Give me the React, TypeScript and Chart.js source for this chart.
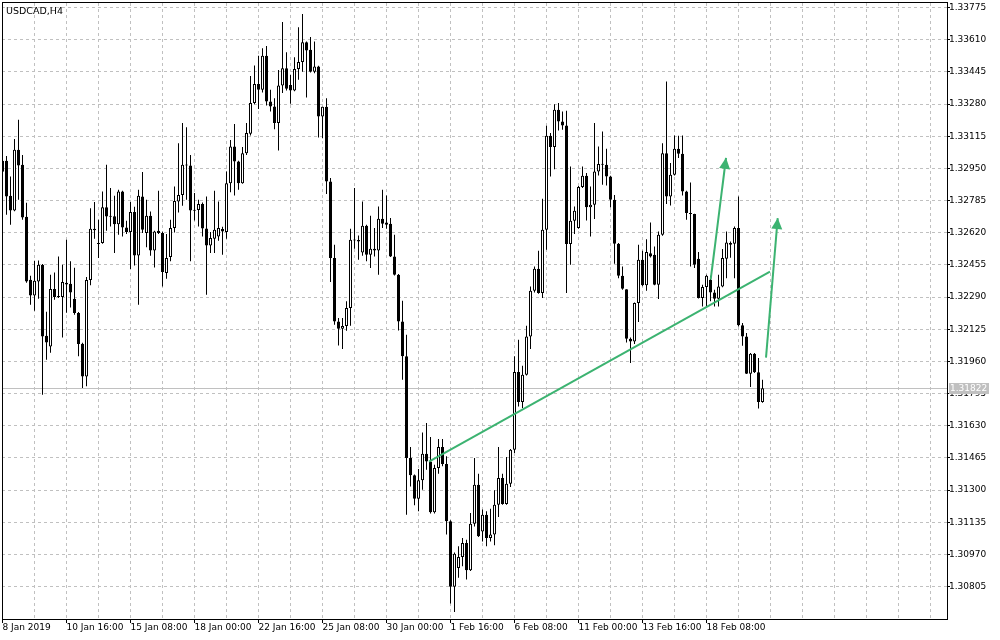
import React, { useEffect, useRef } from 'react';
import { Chart, registerables } from 'chart.js';

Chart.register(...registerables);

const symbolTitle = 'USDCAD,H4';

const opens = [
  1.32932,1.32989,1.32809,1.32734,1.33045,1.32968,1.32702,1.32379,1.32298,1.32370,
  1.32456,1.32092,1.32037,1.32331,1.32292,1.32290,1.32363,1.32358,1.32281,1.32208,
  1.32051,1.31883,1.32377,1.32640,1.32567,1.32567,1.32751,1.32705,1.32705,1.32664,
  1.32831,1.32647,1.32623,1.32726,1.32503,1.32806,1.32618,1.32707,1.32529,1.32630,
  1.32618,1.32413,1.32495,1.32644,1.32780,1.32814,1.32968,1.32965,1.32736,1.32736,
  1.32767,1.32642,1.32555,1.32589,1.32601,1.32639,1.32623,1.32874,1.33062,1.32985,
  1.32874,1.33028,1.33127,1.33285,1.33383,1.33353,1.33527,1.33293,1.33267,1.33182,
  1.33375,1.33464,1.33378,1.33349,1.33459,1.33495,1.33597,1.33558,1.33446,1.33472,
  1.33216,1.33266,1.32883,1.32490,1.32165,1.32128,1.32141,1.32234,1.32584,1.32582,
  1.32519,1.32656,1.32507,1.32538,1.32529,1.32691,1.32672,1.32666,1.32498,1.32404,
  1.32165,1.31986,1.31465,1.31376,1.31256,1.31350,1.31487,1.31447,1.31186,1.31414,
  1.31521,1.31434,1.31140,1.30804,1.30901,1.30957,1.31029,1.30889,1.31128,1.31328,
  1.31088,1.31174,1.31055,1.31072,1.31225,1.31362,1.31229,1.31332,1.31507,1.31906,
  1.31752,1.31892,1.32088,1.32322,1.32435,1.32311,1.32635,1.33117,1.33059,1.33250,
  1.33190,1.33170,1.32562,1.32681,1.32644,1.32854,1.32912,1.32751,1.32763,1.32934,
  1.32972,1.32968,1.32908,1.32789,1.32563,1.32399,1.32330,1.32076,1.32062,1.32259,
  1.32481,1.32350,1.32515,1.32507,1.32353,1.32609,1.33028,1.32806,1.32917,1.33050,
  1.33025,1.32831,1.32721,1.32716,1.32486,1.32285,1.32341,1.32379,1.32314,1.32281,
  1.32344,1.32486,1.32567,1.32563,1.32644,1.32145,1.32088,1.31897,1.31999,1.31904,
  1.31752,
];

const highs = [
  1.33014,1.33014,1.32908,1.33101,1.33199,1.33019,1.32773,1.32399,1.32476,1.32478,
  1.32460,1.32215,1.32404,1.32416,1.32498,1.32456,1.32584,1.32473,1.32440,1.32213,
  1.32056,1.32393,1.32746,1.32777,1.32686,1.32831,1.32968,1.32849,1.32809,1.32840,
  1.32835,1.32681,1.32777,1.32753,1.32840,1.32931,1.32789,1.32729,1.32630,1.32835,
  1.32625,1.32613,1.32686,1.32857,1.33079,1.33182,1.33161,1.33019,1.32823,1.32789,
  1.32775,1.32806,1.32623,1.32835,1.32780,1.32650,1.32934,1.33096,1.33177,1.32989,
  1.33059,1.33182,1.33424,1.33477,1.33527,1.33566,1.33578,1.33353,1.33310,1.33455,
  1.33700,1.33546,1.33430,1.33520,1.33674,1.33741,1.33600,1.33623,1.33600,1.33476,
  1.33266,1.33310,1.32900,1.32558,1.32182,1.32182,1.32268,1.32640,1.32849,1.32606,
  1.32780,1.32661,1.32707,1.32644,1.32754,1.32840,1.32811,1.32695,1.32609,1.32408,
  1.32271,1.32097,1.31521,1.31380,1.31408,1.31596,1.31644,1.31572,1.31430,1.31562,
  1.31562,1.31473,1.31145,1.30980,1.31012,1.31055,1.31046,1.31183,1.31465,1.31384,
  1.31200,1.31191,1.31205,1.31299,1.31521,1.31384,1.31470,1.31511,1.31986,1.32071,
  1.31938,1.32143,1.32344,1.32447,1.32527,1.32794,1.33168,1.33131,1.33279,1.33285,
  1.33241,1.33245,1.32960,1.32754,1.32860,1.32960,1.32926,1.32857,1.33182,1.33062,
  1.33139,1.33050,1.32912,1.32814,1.32567,1.32447,1.32330,1.32083,1.32262,1.32558,
  1.32527,1.32587,1.32672,1.32549,1.32626,1.33079,1.33395,1.32977,1.33118,1.33117,
  1.33118,1.32835,1.32878,1.32717,1.32521,1.32353,1.32404,1.32399,1.32327,1.32404,
  1.32536,1.32626,1.32575,1.32652,1.32806,1.32157,1.32106,1.32003,1.32003,1.31977,
  1.31866,
];

const lows = [
  1.32912,1.32712,1.32661,1.32730,1.32789,1.32686,1.32363,1.32251,1.32220,1.32281,
  1.31789,1.31969,1.32005,1.32276,1.32285,1.32083,1.32210,1.32237,1.32199,1.31986,
  1.31824,1.31832,1.32350,1.32589,1.32490,1.32563,1.32630,1.32652,1.32516,1.32609,
  1.32601,1.32613,1.32434,1.32452,1.32251,1.32618,1.32546,1.32502,1.32442,1.32613,
  1.32344,1.32384,1.32473,1.32621,1.32724,1.32758,1.32789,1.32473,1.32683,1.32652,
  1.32601,1.32302,1.32516,1.32516,1.32579,1.32507,1.32589,1.32828,1.32811,1.32840,
  1.32871,1.33019,1.33118,1.33279,1.33255,1.33339,1.33272,1.33241,1.33151,1.33042,
  1.33336,1.33349,1.33281,1.33345,1.33404,1.33446,1.33313,1.33441,1.33438,1.33108,
  1.33105,1.32818,1.32367,1.32148,1.32042,1.32024,1.32117,1.32143,1.32538,1.32481,
  1.32502,1.32473,1.32439,1.32498,1.32404,1.32644,1.32640,1.32495,1.32400,1.32119,
  1.31866,1.31174,1.31319,1.31222,1.31191,1.31302,1.31405,1.31180,1.31180,1.31384,
  1.31422,1.31072,1.30718,1.30675,1.30850,1.30909,1.30841,1.30885,1.31114,1.31060,
  1.31037,1.31012,1.31037,1.31017,1.31162,1.31225,1.31225,1.31316,1.31490,1.31729,
  1.31721,1.31888,1.32024,1.32314,1.32307,1.32285,1.32533,1.32908,1.32946,1.33144,
  1.33148,1.32311,1.32456,1.32613,1.32640,1.32849,1.32683,1.32601,1.32690,1.32913,
  1.32866,1.32862,1.32751,1.32461,1.32387,1.32327,1.32057,1.31952,1.32049,1.32162,
  1.32345,1.32322,1.32493,1.32350,1.32280,1.32605,1.32767,1.32760,1.32913,1.33003,
  1.32811,1.32686,1.32447,1.32439,1.32282,1.32242,1.32242,1.32268,1.32242,1.32242,
  1.32340,1.32387,1.32492,1.32387,1.32139,1.32040,1.31895,1.31829,1.31900,1.31718,
  1.31748,
];

const closes = [
  1.32989,1.32806,1.32734,1.33045,1.32965,1.32698,1.32370,1.32298,1.32374,1.32456,
  1.32088,1.32057,1.32331,1.32290,1.32290,1.32367,1.32355,1.32314,1.32208,1.32049,
  1.31883,1.32377,1.32640,1.32633,1.32562,1.32751,1.32703,1.32702,1.32664,1.32831,
  1.32647,1.32623,1.32726,1.32503,1.32809,1.32635,1.32707,1.32529,1.32626,1.32618,
  1.32418,1.32490,1.32644,1.32782,1.32814,1.32968,1.32965,1.32734,1.32732,1.32767,
  1.32642,1.32555,1.32593,1.32635,1.32644,1.32626,1.32874,1.33062,1.32985,1.32874,
  1.33028,1.33131,1.33285,1.33383,1.33353,1.33527,1.33293,1.33267,1.33182,1.33375,
  1.33464,1.33358,1.33349,1.33460,1.33495,1.33597,1.33554,1.33446,1.33472,1.33216,
  1.33266,1.32883,1.32490,1.32165,1.32128,1.32141,1.32234,1.32584,1.32580,1.32575,
  1.32656,1.32507,1.32538,1.32529,1.32691,1.32666,1.32661,1.32498,1.32404,1.32165,
  1.31986,1.31465,1.31376,1.31256,1.31350,1.31487,1.31447,1.31186,1.31414,1.31521,
  1.31434,1.31140,1.30804,1.30974,1.30957,1.31029,1.30889,1.31128,1.31328,1.31063,
  1.31174,1.31055,1.31072,1.31225,1.31362,1.31229,1.31332,1.31507,1.31906,1.31752,
  1.31892,1.32088,1.32322,1.32435,1.32311,1.32635,1.33117,1.33059,1.33250,1.33190,
  1.33170,1.32562,1.32681,1.32732,1.32854,1.32912,1.32751,1.32763,1.32934,1.32972,
  1.32968,1.32908,1.32789,1.32563,1.32399,1.32333,1.32076,1.32062,1.32259,1.32481,
  1.32350,1.32521,1.32498,1.32353,1.32609,1.33028,1.32806,1.32917,1.33050,1.33025,
  1.32831,1.32721,1.32716,1.32456,1.32285,1.32341,1.32399,1.32314,1.32281,1.32344,
  1.32490,1.32570,1.32558,1.32644,1.32145,1.32088,1.31897,1.31999,1.31904,1.31752,
  1.31822,
];

const yTicks = [
  1.30805, 1.30970, 1.31135, 1.31300, 1.31465, 1.31630, 1.31795, 1.31960, 1.32125, 1.32290,
  1.32455, 1.32620, 1.32785, 1.32950, 1.33115, 1.33280, 1.33445, 1.33610, 1.33775,
];

const xTickBars = [0, 16, 32, 48, 64, 80, 96, 112, 128, 144, 160, 176];
const xTickLabels = [
  '8 Jan 2019', '10 Jan 16:00', '15 Jan 08:00', '18 Jan 00:00', '22 Jan 16:00', '25 Jan 08:00',
  '30 Jan 00:00', '1 Feb 16:00', '6 Feb 08:00', '11 Feb 00:00', '13 Feb 16:00', '18 Feb 08:00',
];

const trendLine = [
  { x: 106.625, y: 1.31446 },
  { x: 191.875, y: 1.32420 },
];
const arrowUp1 = [
  { x: 177.05, y: 1.32379 },
  { x: 180.875, y: 1.33004 },
];
const arrowUp2 = [
  { x: 190.875, y: 1.31979 },
  { x: 193.8, y: 1.32695 },
];

const Y_MIN = 1.30639;
const Y_MAX = 1.33798;
const X_MIN = -0.125;
const X_MAX = 236.125;
const GRID_STEP = 8;
const GREEN = '#3cb371';
const FONT = { family: '"DejaVu Sans", sans-serif', size: 9 };

const lastPrice = closes[closes.length - 1];

const xGridValues: number[] = [];
for (let v = 0; v <= 232; v += GRID_STEP) xGridValues.push(v);

const mtPlugin = {
  id: 'mtDecor',
  beforeDatasetsDraw(chart: any) {
    const { ctx, chartArea, scales } = chart;
    const py = Math.floor(scales.y.getPixelForValue(lastPrice)) + 0.5;
    ctx.save();
    ctx.strokeStyle = '#c0c0c0';
    ctx.lineWidth = 1;
    ctx.beginPath();
    ctx.moveTo(chartArea.left, py);
    ctx.lineTo(chartArea.right, py);
    ctx.stroke();
    ctx.restore();
  },
  afterDatasetsDraw(chart: any) {
    const { ctx } = chart;
    chart.data.datasets.forEach((ds: any, i: number) => {
      if (!ds.arrowHead) return;
      const pts = chart.getDatasetMeta(i).data;
      if (pts.length < 2) return;
      const a = pts[pts.length - 2];
      const b = pts[pts.length - 1];
      const dx = b.x - a.x;
      const dy = b.y - a.y;
      const len = Math.hypot(dx, dy) || 1;
      const ux = dx / len;
      const uy = dy / len;
      const hl = 11;
      const hw = 5.5;
      const bx = b.x - ux * hl;
      const by = b.y - uy * hl;
      ctx.save();
      ctx.fillStyle = ds.borderColor;
      ctx.beginPath();
      ctx.moveTo(b.x, b.y);
      ctx.lineTo(bx - uy * hw, by + ux * hw);
      ctx.lineTo(bx + uy * hw, by - ux * hw);
      ctx.closePath();
      ctx.fill();
      ctx.restore();
    });
  },
  afterDraw(chart: any) {
    const { ctx, chartArea, scales } = chart;
    ctx.save();
    ctx.strokeStyle = '#000';
    ctx.lineWidth = 1;
    ctx.strokeRect(
      chartArea.left + 0.5,
      chartArea.top - 0.5,
      chartArea.right - chartArea.left,
      chartArea.bottom - chartArea.top + 1,
    );
    ctx.fillStyle = '#000';
    ctx.font = '9.5px "DejaVu Sans", sans-serif';
    ctx.textAlign = 'left';
    ctx.textBaseline = 'alphabetic';
    ctx.fillText(symbolTitle, chartArea.left + 4, chartArea.top + 11);
    const py = Math.floor(scales.y.getPixelForValue(lastPrice));
    ctx.fillStyle = '#c0c0c0';
    ctx.fillRect(chartArea.right + 2, py - 5, 40, 11);
    ctx.fillStyle = '#ffffff';
    ctx.font = '9px "DejaVu Sans", sans-serif';
    ctx.textBaseline = 'middle';
    ctx.fillText(lastPrice.toFixed(5), chartArea.right + 3, py + 1);
    ctx.restore();
  },
};

export default function App() {
  const canvasRef = useRef<HTMLCanvasElement | null>(null);

  useEffect(() => {
    const canvas = canvasRef.current;
    if (!canvas) return;

    const bodies = opens.map((o, i) => ({ x: i, y: [o, closes[i]] }));
    const wicks = lows.map((l, i) => ({ x: i, y: [l, highs[i]] }));
    const bodyColors = opens.map((o, i) => (closes[i] >= o ? '#ffffff' : '#000000'));

    const chart = new Chart(canvas, {
      type: 'bar',
      data: {
        datasets: [
          {
            type: 'line',
            data: trendLine,
            borderColor: GREEN,
            borderWidth: 2,
            pointRadius: 0,
            fill: false,
            order: 0,
          } as any,
          {
            type: 'line',
            data: arrowUp1,
            borderColor: GREEN,
            borderWidth: 2,
            pointRadius: 0,
            fill: false,
            order: 0,
            arrowHead: true,
          } as any,
          {
            type: 'line',
            data: arrowUp2,
            borderColor: GREEN,
            borderWidth: 2,
            pointRadius: 0,
            fill: false,
            order: 0,
            arrowHead: true,
          } as any,
          {
            type: 'bar',
            data: bodies,
            backgroundColor: bodyColors,
            borderColor: '#000000',
            borderWidth: 1,
            borderSkipped: false,
            barThickness: 3,
            grouped: false,
            minBarLength: 1,
            inflateAmount: 0,
            order: 1,
          } as any,
          {
            type: 'bar',
            data: wicks,
            backgroundColor: '#000000',
            borderWidth: 0,
            barThickness: 1,
            grouped: false,
            inflateAmount: 0,
            order: 2,
          } as any,
        ],
      },
      options: {
        responsive: false,
        animation: false,
        devicePixelRatio: 1,
        events: [],
        layout: { padding: { top: 3, left: 2, right: 0, bottom: 0 } },
        plugins: {
          legend: { display: false },
          tooltip: { enabled: false },
          title: { display: false },
        },
        scales: {
          x: {
            type: 'linear',
            position: 'bottom',
            min: X_MIN,
            max: X_MAX,
            offset: false,
            afterBuildTicks: (s: any) => {
              s.ticks = xGridValues.map((v) => ({ value: v }));
            },
            afterFit: (s: any) => {
              s.height = 21;
              s.paddingLeft = 0;
              s.paddingRight = 0;
            },
            grid: {
              offset: false,
              color: '#c0c0c0',
              lineWidth: 1,
              tickLength: 4,
              tickColor: (c: any) => (xTickBars.includes(c.tick?.value) ? '#000000' : 'rgba(0,0,0,0)'),
            },
            border: { display: true, color: '#000000', dash: [3, 3] },
            ticks: {
              autoSkip: false,
              maxRotation: 0,
              minRotation: 0,
              align: 'start',
              padding: -1,
              color: '#000000',
              font: FONT,
              callback: (v: any) => {
                const k = xTickBars.indexOf(Number(v));
                return k >= 0 ? xTickLabels[k] : '';
              },
            },
          } as any,
          y: {
            type: 'linear',
            position: 'right',
            min: Y_MIN,
            max: Y_MAX,
            beginAtZero: false,
            afterBuildTicks: (s: any) => {
              s.ticks = yTicks.map((v) => ({ value: v }));
            },
            afterFit: (s: any) => {
              s.width = 53;
              s.paddingTop = 0;
              s.paddingBottom = 0;
            },
            grid: {
              color: '#c0c0c0',
              lineWidth: 1,
              tickLength: 3,
              tickColor: '#000000',
            },
            border: { display: true, color: '#000000', dash: [3, 3] },
            ticks: {
              autoSkip: false,
              padding: -1,
              color: '#000000',
              font: FONT,
              callback: (v: any) => Number(v).toFixed(5),
            },
          } as any,
        },
      },
      plugins: [mtPlugin],
    } as any);

    return () => {
      chart.destroy();
    };
  }, []);

  return (
    <div style={{ position: 'fixed', left: 0, top: 0, width: 1000, height: 640, background: '#ffffff' }}>
      <canvas ref={canvasRef} width={1000} height={640} style={{ display: 'block', width: 1000, height: 640 }} />
    </div>
  );
}
